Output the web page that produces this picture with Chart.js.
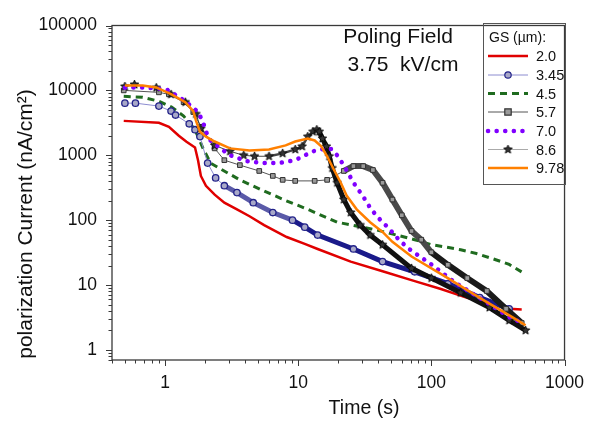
<!DOCTYPE html>
<html><head><meta charset="utf-8">
<script src="https://cdn.jsdelivr.net/npm/chart.js@4.4.1/dist/chart.umd.min.js"></script>
<style>html,body{margin:0;padding:0;background:#fff;}canvas{display:block;}</style>
</head><body>
<canvas id="c" width="597" height="422"></canvas>
<script>
// ---- tick labels / text ----
const xMajorTicks = [1, 10, 100, 1000];
const yMajorTicks = [1, 10, 100, 1000, 10000, 100000];
const seriesNames = ['2.0', '3.45', '4.5', '5.7', '7.0', '8.6', '9.78'];
const legendTitle = 'GS (µm):';
const xTitle = 'Time (s)';
const yTitle = 'polarization Current (nA/cm²)';
const noteLines = ['Poling Field', '3.75  kV/cm'];

// ---- series (time in s, current in nA/cm²) ----
const t_2_0 = [0.49,0.9,1.07,1.27,1.45,1.68,1.77,1.86,2.03,2.36,2.79,3.47,4.31,5.55,8.2,11.2,14,24.8,43,75,118,186,384,477];
const i_2_0 = [3390,3160,2750,2000,1620,1320,840,480,339,247,186,147,115,84,55,43,36,23,16.3,11.5,8.7,6.35,4.3,4.2];

const t_3_45 = [0.5,0.6,0.9,1.11,1.2,1.52,1.68,1.83,2.09,2.4,2.79,3.47,4.6,6.45,9.06,11.2,14,26,43,75,133,231,384];
const i_3_45 = [6360,6360,5730,4800,4170,3055,2480,1940,757,448,340,266,186,131,100,78,59,36,23,16,10.5,6.4,4.3];

const t_4_5 = [0.49,0.68,0.9,1.12,1.38,1.68,1.93,2.2,2.7,3.65,5.46,8.05,11.8,19.6,38.4,75,100,124,166,218,287,384,495];
const i_4_5 = [8110,7830,6810,5520,4030,2480,1277,757,593,418,285,201,147,93,71,50,42,39,35,30.6,25.6,20.8,15.2];

const t_5_7 = [0.49,0.9,1.07,1.38,1.63,1.86,2.36,2.79,3.65,5.1,6.45,7.65,9.5,13.3,16.5,22,26,30.8,36.4,43,51,60,71,84,100,133,186,261,364,477];
const i_5_7 = [10000,9330,8700,6580,4640,2750,1277,840,705,573,481,418,403,403,418,573,681,681,593,377,208,119,68,50,32,20.5,12.8,8.1,4.3,2.6];

const t_7_0 = [0.5,0.68,1.03,1.42,1.77,1.93,2.03,2.2,2.61,3.08,4.1,5.46,7.1,9.5,12.9,15.5,17.7,19.6,22,26,30.8,35.3,41,48.5,57,68,100,150,250,400,480];
const i_7_0 = [11000,11100,10350,6810,4640,3270,2310,1690,1277,1000,811,757,757,840,1150,1250,1250,1000,700,380,230,147,103,73,50,36,20.8,11,5.7,3.05,2.65];

const t_8_6 = [0.5,0.59,0.86,1.11,1.42,1.71,1.86,2.36,3.08,3.9,4.7,6.04,7.65,9.5,10.7,11.8,12.9,13.8,14.4,15.2,16.3,17.1,18,19.6,22,24.8,29.2,34.7,43,71,100,166,273,384,510];
const i_8_6 = [11500,12300,11000,8700,6580,4330,2570,1420,1150,1000,966,966,1070,1230,1370,1940,2310,2480,2310,1810,1370,966,635,377,208,131,84,59,41.8,18.1,12.8,7.6,4.5,2.85,2.0];

const t_9_78 = [0.5,0.68,0.86,1.12,1.42,1.63,1.71,1.83,2.03,2.36,3.08,4.31,6.04,8.05,9.5,11.8,13.3,14.9,16.5,18.6,20.9,23.1,27.5,34.7,43,51,71,133,231,405,510];
const i_9_78 = [11900,11900,11100,8700,6580,4800,3390,2310,1940,1630,1277,1190,1230,1420,1630,1810,1690,1370,966,593,377,239,147,93,65.8,46.4,27.5,12.8,6.35,3.2,2.4];

// ---- helpers ----
const FONT = "'Liberation Sans', Arial, sans-serif";
const pts = (t, v) => t.map((x, k) => ({x: x, y: v[k]}));
function makeTicks(majors, min, max) {
  const out = [];
  const decades = [majors[0] / 10].concat(majors);
  decades.forEach(d => { for (let k = 1; k <= 9; k++) { const v = k === 1 ? d : k * d; if (v >= min - 1e-9 && v <= max + 1e-9) out.push(v); } });
  return out;
}
function starImage(r, fill, stroke) {
  const s = Math.ceil(r * 2 + 2);
  const c = document.createElement('canvas'); c.width = c.height = s;
  const g = c.getContext('2d');
  g.beginPath();
  for (let k = 0; k < 10; k++) {
    const rad = k % 2 === 0 ? r : r * 0.45;
    const a = -Math.PI / 2 + k * Math.PI / 5;
    const px = s / 2 + rad * Math.cos(a), py = s / 2 + rad * Math.sin(a);
    if (k) g.lineTo(px, py); else g.moveTo(px, py);
  }
  g.closePath(); g.fillStyle = fill; g.fill(); g.strokeStyle = stroke; g.lineWidth = 0.8; g.stroke();
  return c;
}
const STAR = starImage(4.5, '#333', '#000');

const styles = [
  {color: '#e00000', width: 2.5},
  {color: '#8c8cd0', width: 1, marker: 'circle', mFill: '#a8a8c8', mStroke: '#23238a'},
  {color: '#1f6b1f', width: 3, dash: [7, 5]},
  {color: '#555555', width: 1, marker: 'rect', mFill: '#9a9a9a', mStroke: '#333'},
  {color: '#8000ff', width: 4.5, dash: [0.1, 8.5], cap: 'round'},
  {color: '#aaaaaa', width: 1, marker: 'star'},
  {color: '#ff8000', width: 2.5}
];

const datasets = [
  {label: seriesNames[0], data: pts(t_2_0, i_2_0), borderColor: '#e00000', borderWidth: 2.5, pointRadius: 0, order: 7},
  {label: seriesNames[1], data: pts(t_3_45, i_3_45), borderColor: '#8c8cd0', borderWidth: 1,
    pointStyle: 'circle', pointRadius: 3.2, pointBackgroundColor: '#a8a8c8', pointBorderColor: '#23238a', pointBorderWidth: 1.3,
    segment: {borderWidth: c => c.p0.parsed.x >= 2.7 ? 5 : 1,
              borderColor: c => c.p0.parsed.x >= 9 ? '#1a1a8a' : (c.p0.parsed.x >= 2.7 ? '#5a5aa8' : '#8c8cd0')}, order: 5},
  {label: seriesNames[2], data: pts(t_4_5, i_4_5), borderColor: '#1f6b1f', borderWidth: 3, borderDash: [7, 5], pointRadius: 0, order: 6},
  {label: seriesNames[3], data: pts(t_5_7, i_5_7), borderColor: '#555', borderWidth: 1,
    pointStyle: 'rect', pointRadius: 3.3, pointBackgroundColor: '#9a9a9a', pointBorderColor: '#333', pointBorderWidth: 1,
    segment: {borderWidth: c => c.p0.parsed.x >= 20 ? 6 : 1,
              borderColor: c => c.p0.parsed.x >= 90 ? '#1a1a1a' : (c.p0.parsed.x >= 20 ? '#4a4a4a' : '#555')}, order: 4},
  {label: seriesNames[4], data: pts(t_7_0, i_7_0), borderColor: '#8000ff', borderWidth: 4.5, borderDash: [0.1, 8.5], borderCapStyle: 'round', pointRadius: 0, order: 2},
  {label: seriesNames[5], data: pts(t_8_6, i_8_6), borderColor: '#444', borderWidth: 1,
    pointStyle: STAR, pointRadius: 4,
    segment: {borderWidth: c => c.p0.parsed.x >= 13.8 ? 5 : (c.p0.parsed.x >= 6 ? 2.5 : 1),
              borderColor: c => c.p0.parsed.x >= 13.8 ? '#111' : '#444'}, order: 3},
  {label: seriesNames[6], data: pts(t_9_78, i_9_78), borderColor: '#ff8000', borderWidth: 2.5, pointRadius: 0, order: 1}
];

function drawMarker(ctx, st, x, y) {
  if (!st.marker) return;
  if (st.marker === 'star') { ctx.drawImage(STAR, x - STAR.width / 2, y - STAR.height / 2); return; }
  ctx.fillStyle = st.mFill; ctx.strokeStyle = st.mStroke; ctx.lineWidth = 1.2; ctx.setLineDash([]);
  ctx.beginPath();
  if (st.marker === 'circle') ctx.arc(x, y, 3.2, 0, Math.PI * 2); else ctx.rect(x - 3.2, y - 3.2, 6.4, 6.4);
  ctx.fill(); ctx.stroke();
}

const deco = {
  id: 'deco',
  afterDraw(chart) {
    const {ctx, chartArea: a, scales: {x, y}} = chart;
    ctx.save();
    // frame
    ctx.strokeStyle = '#3a3a3a'; ctx.lineWidth = 1.3; ctx.setLineDash([]);
    ctx.strokeRect(a.left, a.top, a.right - a.left, a.bottom - a.top);
    // ticks
    ctx.lineWidth = 1;
    x.ticks.forEach(tk => {
      const px = Math.round(x.getPixelForValue(tk.value)) + 0.5;
      const major = xMajorTicks.includes(tk.value);
      ctx.beginPath(); ctx.moveTo(px, a.bottom); ctx.lineTo(px, a.bottom + (major ? 6 : 3.5)); ctx.stroke();
    });
    y.ticks.forEach(tk => {
      const py = Math.round(y.getPixelForValue(tk.value)) + 0.5;
      const major = yMajorTicks.includes(tk.value);
      ctx.beginPath(); ctx.moveTo(a.left, py); ctx.lineTo(a.left - (major ? 6 : 3.5), py); ctx.stroke();
    });
    // axis titles
    ctx.fillStyle = '#111';
    ctx.textAlign = 'center'; ctx.textBaseline = 'alphabetic';
    ctx.font = '19.5px ' + FONT;
    ctx.fillText(xTitle, 364, 414);
    ctx.font = '21px ' + FONT;
    ctx.save(); ctx.translate(32, 224); ctx.rotate(-Math.PI / 2);
    ctx.fillText(yTitle, 0, 0); ctx.restore();
    // annotation
    ctx.font = '21px ' + FONT;
    ctx.fillText(noteLines[0], 398, 43);
    ctx.fillText(noteLines[1], 403, 71);
    // legend
    ctx.strokeStyle = '#555'; ctx.lineWidth = 1;
    ctx.strokeRect(483.5, 23.5, 82, 161);
    ctx.textAlign = 'left';
    ctx.font = '14px ' + FONT; ctx.fillStyle = '#111';
    ctx.fillText(legendTitle, 489, 42);
    const rows = [56, 75, 93.5, 112, 131, 149.5, 168];
    styles.forEach((st, k) => {
      const yy = rows[k];
      ctx.save();
      ctx.strokeStyle = st.color; ctx.lineWidth = st.width;
      ctx.setLineDash(st.dash || []); ctx.lineCap = st.cap || 'butt';
      ctx.beginPath(); ctx.moveTo(488, yy); ctx.lineTo(528, yy); ctx.stroke();
      ctx.restore();
      drawMarker(ctx, st, 508, yy);
      ctx.fillStyle = '#111'; ctx.textBaseline = 'middle';
      ctx.font = '14.5px ' + FONT;
      ctx.fillText(seriesNames[k], 536, yy + 1);
      ctx.textBaseline = 'alphabetic';
    });
    ctx.restore();
  }
};

new Chart(document.getElementById('c'), {
  type: 'line',
  data: {datasets: datasets},
  options: {
    responsive: false, animation: false, events: [],
    elements: {line: {tension: 0}},
    layout: {padding: {top: 19, right: 20, left: 0, bottom: 0}},
    plugins: {legend: {display: false}, tooltip: {enabled: false}},
    scales: {
      x: {
        type: 'logarithmic', min: 0.4, max: 1000, position: 'bottom',
        grid: {display: false, drawTicks: false}, border: {display: false},
        ticks: {autoSkip: false, maxRotation: 0, padding: 13, color: '#111', font: {family: FONT, size: 17.5},
          callback: v => xMajorTicks.includes(v) ? String(v) : ''},
        afterBuildTicks: s => { s.ticks = makeTicks(xMajorTicks, 0.4, 1000).map(v => ({value: v})); },
        afterFit: s => { s.height = 62; }
      },
      y: {
        type: 'logarithmic', min: 0.7, max: 100000, position: 'left',
        grid: {display: false, drawTicks: false}, border: {display: false},
        ticks: {autoSkip: false, padding: 15, color: '#111', font: {family: FONT, size: 17.5},
          callback: v => yMajorTicks.includes(v) ? String(v) : ''},
        afterBuildTicks: s => { s.ticks = makeTicks(yMajorTicks, 0.7, 100000).map(v => ({value: v})); },
        afterFit: s => { s.width = 112; }
      }
    }
  },
  plugins: [deco]
});
</script>
</body></html>
